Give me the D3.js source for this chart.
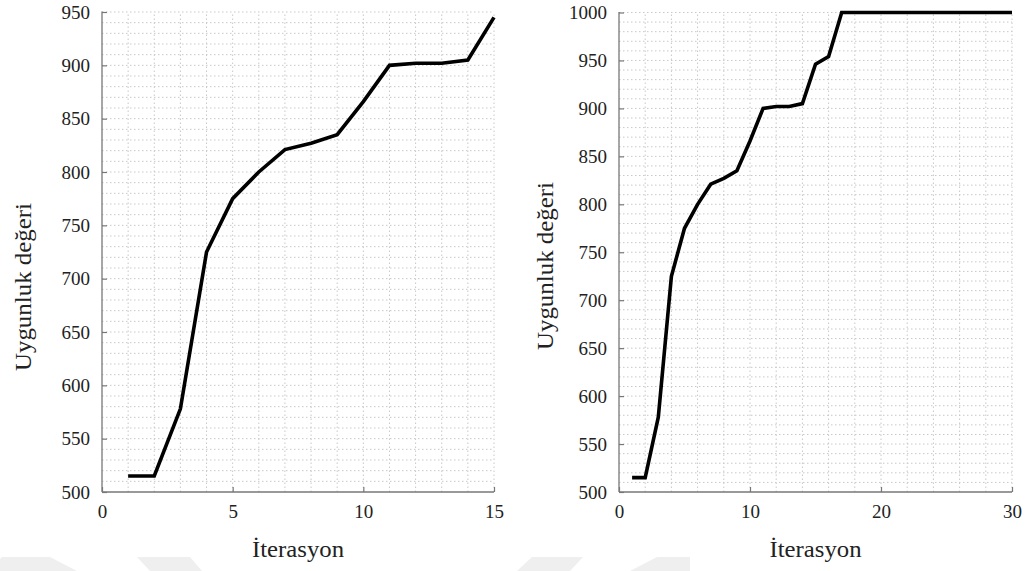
<!DOCTYPE html>
<html>
<head>
<meta charset="utf-8">
<script src="https://cdn.jsdelivr.net/npm/d3@7"></script>
<style>
  html, body { margin: 0; padding: 0; background: #fff; }
  svg { display: block; }
  svg text { font-family: "Liberation Serif", serif !important; fill: #222; }
</style>
</head>
<body>
<svg id="chart" width="1028" height="571"></svg>
<script>
// ---- data ----
const iterLeft = [1, 2, 3, 4, 5, 6, 7, 8, 9, 10, 11, 12, 13, 14, 15];
const fitLeft  = [515, 515, 578, 725, 775, 800, 821, 827, 835, 866, 900, 902, 902, 905, 945];

const iterRight = [1, 2, 3, 4, 5, 6, 7, 8, 9, 10, 11, 12, 13, 14, 15, 16, 17, 18, 19, 20, 21, 22, 23, 24, 25, 26, 27, 28, 29, 30];
const fitRight  = [515, 515, 578, 725, 775, 800, 821, 827, 835, 866, 900, 902, 902, 905, 946, 954, 1000, 1000, 1000, 1000, 1000, 1000, 1000, 1000, 1000, 1000, 1000, 1000, 1000, 1000];

const xTicksLeft  = [0, 5, 10, 15];
const yTicksLeft  = [500, 550, 600, 650, 700, 750, 800, 850, 900, 950];
const xTicksRight = [0, 10, 20, 30];
const yTicksRight = [500, 550, 600, 650, 700, 750, 800, 850, 900, 950, 1000];

const xLabel = "İterasyon";
const yLabel = "Uygunluk değeri";

const svg = d3.select("#chart");
const SERIF = "Liberation Serif, serif";

// faint background watermark shapes
const wm = [
  [[0,559],[2,557],[50,557],[77,571],[0,571]],
  [[137,557],[190,557],[202,571],[150,571]],
  [[532,557],[583,557],[570,571],[517,571]],
  [[657,557],[690,557],[690,571],[630,571]]
];
svg.append("g").selectAll("path").data(wm).join("path")
  .attr("d", d => "M" + d.map(p => p.join(",")).join("L") + "Z")
  .attr("fill", "#efefef");

function panel(opt) {
  const g = svg.append("g");
  const x = d3.scaleLinear().domain(opt.xDomain).range([opt.left, opt.right]);
  const y = d3.scaleLinear().domain(opt.yDomain).range([opt.bottom, opt.top]);

  // grid
  const gx = d3.range(opt.xDomain[0] + opt.xGridStep, opt.xDomain[1] + 0.001, opt.xGridStep);
  const gy = d3.range(opt.yDomain[0] + 10, opt.yDomain[1] + 0.001, 10);
  g.append("g").selectAll("line").data(gx).join("line")
    .attr("x1", d => x(d)).attr("x2", d => x(d))
    .attr("y1", opt.bottom).attr("y2", opt.top)
    .attr("stroke", "#c8c8c8").attr("stroke-width", 1).attr("stroke-dasharray", "1.5,2.5");
  g.append("g").selectAll("line").data(gy).join("line")
    .attr("y1", d => y(d)).attr("y2", d => y(d))
    .attr("x1", opt.left).attr("x2", opt.right)
    .attr("stroke", "#c8c8c8").attr("stroke-width", 1).attr("stroke-dasharray", "1.5,2.5");

  // axes
  const xAxis = d3.axisBottom(x).tickValues(opt.xTicks).tickSize(-5).tickPadding(13).tickFormat(d3.format("d"));
  const yAxis = d3.axisLeft(y).tickValues(opt.yTicks).tickSize(-5).tickPadding(12).tickFormat(d3.format("d"));
  const ax = g.append("g").attr("transform", `translate(0,${opt.bottom})`).call(xAxis);
  const ay = g.append("g").attr("transform", `translate(${opt.left},0)`).call(yAxis);
  [ax, ay].forEach(a => {
    a.attr("font-family", SERIF).attr("font-size", 19);
    a.select(".domain").attr("stroke", "#777").attr("stroke-width", 1.3);
    a.selectAll(".tick line").attr("stroke", "#777").attr("stroke-width", 1.2);
    a.selectAll(".tick text").attr("font-family", SERIF).attr("font-size", 19).attr("fill", "#2a2a2a");
  });
  ay.select(".domain").attr("d", `M0,${opt.bottom}V${opt.top - 0.5}`);
  ax.select(".domain").attr("d", `M${opt.left},0H${opt.right}`);

  // line
  const line = d3.line().x(d => x(d[0])).y(d => y(d[1]));
  g.append("path").datum(opt.xs.map((v, i) => [v, opt.ys[i]]))
    .attr("d", line).attr("fill", "none").attr("stroke", "#000")
    .attr("stroke-width", 3.6).attr("stroke-linejoin", "miter");

  // labels
  g.append("text").attr("x", (opt.left + opt.right) / 2).attr("y", 557)
    .attr("text-anchor", "middle").attr("font-family", SERIF).attr("font-size", 23)
    .attr("textLength", 92).attr("lengthAdjust", "spacingAndGlyphs").text(xLabel);
  g.append("text")
    .attr("transform", `translate(${opt.ylx},${opt.lyc}) rotate(-90)`)
    .attr("text-anchor", "middle").attr("font-family", SERIF).attr("font-size", 23)
    .attr("textLength", 168).attr("lengthAdjust", "spacingAndGlyphs").text(yLabel);
}

panel({ left: 102, right: 494, top: 12, bottom: 492, xDomain: [0, 15], yDomain: [500, 950],
        xGridStep: 1, xTicks: xTicksLeft, yTicks: yTicksLeft, xs: iterLeft, ys: fitLeft,
        ylx: 31, lyc: 287 });
panel({ left: 619, right: 1012, top: 12.5, bottom: 492, xDomain: [0, 30], yDomain: [500, 1000],
        xGridStep: 2, xTicks: xTicksRight, yTicks: yTicksRight, xs: iterRight, ys: fitRight,
        ylx: 553, lyc: 266 });
</script>
</body>
</html>
